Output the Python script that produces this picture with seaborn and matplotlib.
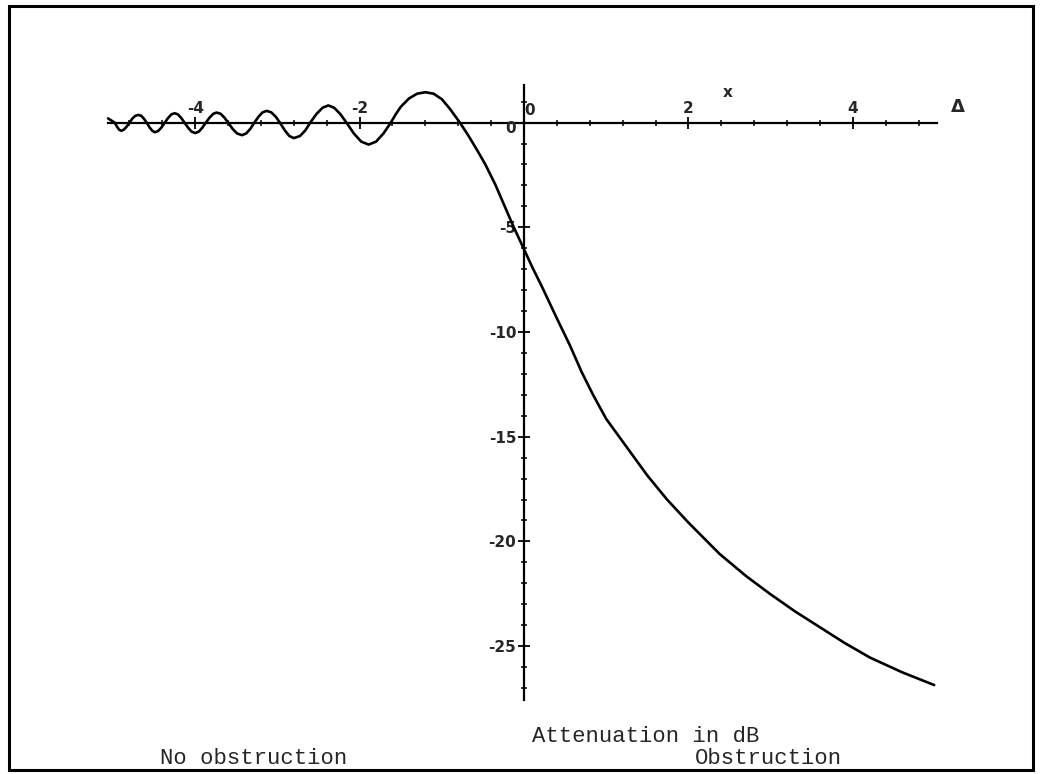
import matplotlib
matplotlib.use("Agg")
import matplotlib.pyplot as plt
import numpy as np
import pandas as pd
import seaborn as sns
from matplotlib.patches import Rectangle

# values (x in Fresnel units, attenuation in dB)
delta = [-5.06, -5.02, -4.98,
         -4.95, -4.925, -4.90, -4.87, -4.835, -4.80,
         -4.765, -4.73, -4.69, -4.655, -4.625, -4.59,
         -4.555, -4.52, -4.49, -4.45, -4.41, -4.37,
         -4.33, -4.29, -4.25, -4.21, -4.17, -4.13,
         -4.085, -4.045, -4.00, -3.955, -3.915, -3.87,
         -3.825, -3.78, -3.74, -3.69, -3.645, -3.60,
         -3.545, -3.49, -3.43, -3.38, -3.33, -3.28,
         -3.23, -3.18, -3.13, -3.075, -3.02, -2.97,
         -2.91, -2.855, -2.80, -2.725, -2.66, -2.60,
         -2.525, -2.45, -2.38, -2.31, -2.235, -2.16,
         -2.07, -1.98, -1.89, -1.80, -1.71, -1.62,
         -1.56, -1.50, -1.40, -1.30, -1.20, -1.10, -1.00, -0.90, -0.78,
         -0.68, -0.58, -0.47, -0.35, -0.24, -0.13,
         0.00, 0.10, 0.22, 0.40, 0.56, 0.70, 0.84, 1.00, 1.25, 1.50,
         1.74, 2.00, 2.38, 2.70, 2.99, 3.30, 3.60, 3.90, 4.21, 4.60, 4.99]
atten_db = [0.20, 0.10, 0.00,
            -0.20, -0.34, -0.39, -0.34, -0.20, 0.00,
            0.19, 0.32, 0.37, 0.32, 0.19, 0.00,
            -0.23, -0.40, -0.46, -0.40, -0.23, 0.00,
            0.22, 0.39, 0.45, 0.39, 0.22, 0.00,
            -0.25, -0.43, -0.50, -0.43, -0.25, 0.00,
            0.24, 0.42, 0.48, 0.42, 0.24, 0.00,
            -0.30, -0.52, -0.60, -0.52, -0.30, 0.00,
            0.28, 0.49, 0.56, 0.49, 0.28, 0.00,
            -0.37, -0.64, -0.74, -0.64, -0.37, 0.00,
            0.41, 0.71, 0.82, 0.71, 0.41, 0.00,
            -0.52, -0.91, -1.05, -0.91, -0.52, 0.00,
            0.40, 0.75, 1.15, 1.38, 1.45, 1.38, 1.12, 0.65, 0.00,
            -0.60, -1.25, -2.00, -2.95, -3.95, -4.95,
            -6.05, -6.90, -7.85, -9.35, -10.65, -11.90, -13.00, -14.15, -15.50, -16.85,
            -18.00, -19.10, -20.60, -21.65, -22.50, -23.35, -24.10, -24.85, -25.55, -26.25, -26.86]

x_labels = ["-4", "-2", "2", "4"]
y_labels = ["-25", "-20", "-15", "-10", "-5"]

df = pd.DataFrame({"delta": delta, "atten": atten_db})

sns.set_style("white")
plt.rcParams["font.family"] = ["DejaVu Sans"]

W, H = 1042, 774
fig = plt.figure(figsize=(W / 100, H / 100), dpi=100)
ax = fig.add_axes([0, 0, 1, 1])

# pixel mapping: x0 at px 524, 82.2 px/unit ; y0 at px 122.6, 20.94 px/unit
x0, sx = 524.0, 82.2
y0, sy = 122.6, 20.94
ax.set_xlim((0 - x0) / sx, (W - x0) / sx)
ax.set_ylim((y0 - H) / sy, y0 / sy)

sns.lineplot(data=df, x="delta", y="atten", sort=False, estimator=None,
             color="black", linewidth=1.9, ax=ax)

for s in ["right", "bottom"]:
    ax.spines[s].set_visible(False)
ax.spines["top"].set_position(("data", 0))
ax.spines["left"].set_position(("data", 0))
ax.spines["top"].set_bounds((108 - x0) / sx, (937 - x0) / sx)
ax.spines["left"].set_bounds((y0 - 700) / sy, (y0 - 85) / sy)
for s in ["top", "left"]:
    ax.spines[s].set_linewidth(1.6)
    ax.spines[s].set_color("black")

ax.xaxis.tick_top()
ax.set_xticks([-4, -2, 2, 4], x_labels)
ax.set_xticks(np.arange(-4.8, 5.0, 0.4), minor=True)
ax.set_yticks([-25, -20, -15, -10, -5], y_labels)
ax.set_yticks(np.arange(-27, 2, 1), minor=True)
ax.tick_params(axis="y", which="both", left=True, right=False)
ax.tick_params(axis="x", which="both", top=True, bottom=False)
ax.tick_params(which="major", direction="inout", length=9, width=1.3,
               color="black", labelsize=11)
ax.tick_params(which="minor", direction="inout", length=5, width=1.1, color="black")
ax.tick_params(axis="x", pad=0)
ax.tick_params(axis="y", pad=1)
for lab in ax.get_xticklabels() + ax.get_yticklabels():
    lab.set_fontweight("bold")
ax.set_xlabel("")
ax.set_ylabel("")

ax.text(0.07, 0.2, "0", fontsize=11, fontweight="bold", ha="center", va="bottom")
ax.text(-0.1, -0.3, "0", fontsize=11, fontweight="bold", ha="right", va="center")
ax.text((728 - x0) / sx, (y0 - 93) / sy, "x", fontsize=11, fontweight="bold",
        ha="center", va="center")
ax.text((958 - x0) / sx, (y0 - 107) / sy, "Δ", fontsize=13, fontweight="bold",
        ha="center", va="center")

mono = ["Liberation Mono", "DejaVu Sans Mono"]
fig.text(532 / W, 1 - 737 / H, "Attenuation in dB", family=mono, fontsize=16,
         ha="left", va="center")
fig.text(160 / W, 1 - 759 / H, "No obstruction", family=mono, fontsize=16,
         ha="left", va="center")
fig.text(695 / W, 1 - 759 / H, "Obstruction", family=mono, fontsize=16,
         ha="left", va="center")

fig.patches.append(Rectangle((9 / W, 4 / H), (1033 - 9) / W, (768 - 4) / H,
                             transform=fig.transFigure, fill=False,
                             edgecolor="black", linewidth=2.2))

fig.savefig("out.png", dpi=100)
